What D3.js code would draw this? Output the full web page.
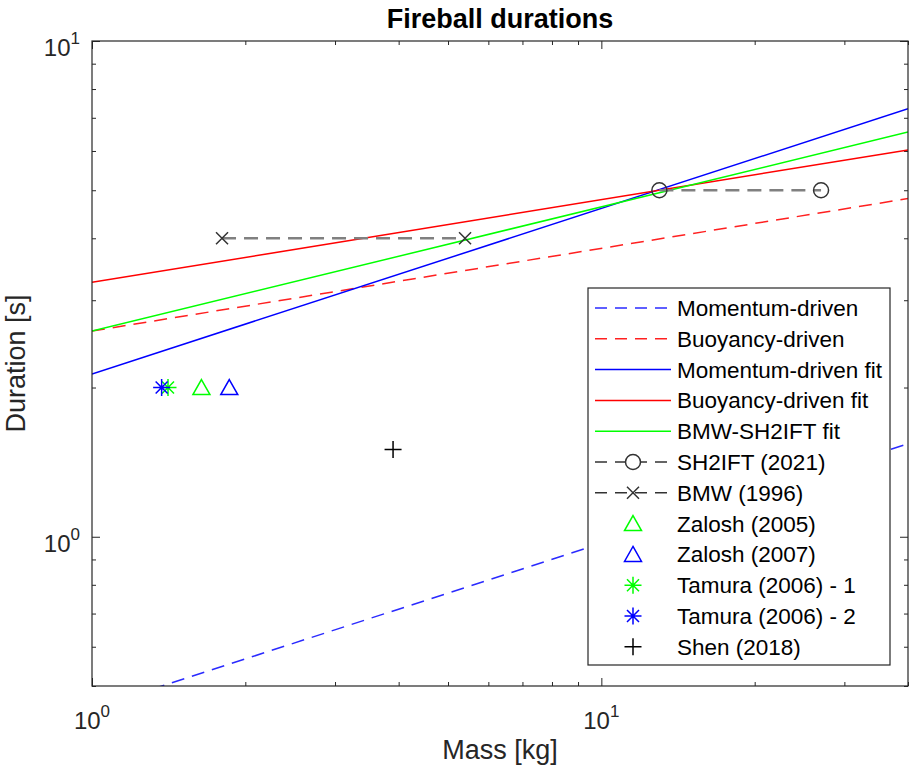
<!DOCTYPE html>
<html>
<head>
<meta charset="utf-8">
<script src="https://cdn.jsdelivr.net/npm/d3@7"></script>
<style>
  body { margin: 0; background: #fff; }
  text { font-family: "Liberation Sans", Arial, Helvetica, sans-serif; fill: #262626; }
  .axis path, .axis line { stroke: #262626; }
</style>
</head>
<body>
<div id="chart"></div>
<script>

// axis ranges
var massRange = [1, 40];
var durationRange = [0.5, 10];

// correlations: duration at both ends of the mass range (straight in log-log)
var lineMass = [1, 40];
var momentumDriven = [0.45, 1.54];
var buoyancyDriven = [2.6, 4.81];
var momentumFit = [2.13, 7.3];
var buoyancyFit = [3.26, 6.03];
var bmwSh2iftFit = [2.6, 6.55];

// experiments
var sh2iftMass = [13, 27], sh2iftDuration = [5, 5];
var bmwMass = [1.8, 5.4], bmwDuration = [4, 4];
var zalosh2005Mass = [1.64], zalosh2005Duration = [2];
var zalosh2007Mass = [1.86], zalosh2007Duration = [2];
var tamura1Mass = [1.41], tamura1Duration = [2];
var tamura2Mass = [1.37], tamura2Duration = [2];
var shenMass = [3.9], shenDuration = [1.5];

var labels = ["Momentum-driven", "Buoyancy-driven", "Momentum-driven fit", "Buoyancy-driven fit",
  "BMW-SH2IFT fit", "SH2IFT (2021)", "BMW (1996)", "Zalosh (2005)", "Zalosh (2007)",
  "Tamura (2006) - 1", "Tamura (2006) - 2", "Shen (2018)"];

// series table, in plotting / legend order
var series = [
  {mass: lineMass, dur: momentumDriven, color: "#2a2aff", dash: "13,8", marker: null},
  {mass: lineMass, dur: buoyancyDriven, color: "#ff2020", dash: "13,8", marker: null},
  {mass: lineMass, dur: momentumFit, color: "#0000ff", dash: null, marker: null},
  {mass: lineMass, dur: buoyancyFit, color: "#ff0000", dash: null, marker: null},
  {mass: lineMass, dur: bmwSh2iftFit, color: "#00ff00", dash: null, marker: null},
  {mass: sh2iftMass, dur: sh2iftDuration, color: "#808080", dash: "14,8", marker: "o", mcolor: "#333"},
  {mass: bmwMass, dur: bmwDuration, color: "#808080", dash: "14,8", marker: "x", mcolor: "#333"},
  {mass: zalosh2005Mass, dur: zalosh2005Duration, color: null, marker: "^", mcolor: "#00ff00"},
  {mass: zalosh2007Mass, dur: zalosh2007Duration, color: null, marker: "^", mcolor: "#0000ff"},
  {mass: tamura1Mass, dur: tamura1Duration, color: null, marker: "*", mcolor: "#00ff00"},
  {mass: tamura2Mass, dur: tamura2Duration, color: null, marker: "*", mcolor: "#0000ff"},
  {mass: shenMass, dur: shenDuration, color: null, marker: "+", mcolor: "#000"}
];
series.forEach(function(s, i) {
  s.label = labels[i];
  s.points = s.mass.map(function(m, j) { return [m, s.dur[j]]; });
});

var margin = {top: 41, right: 2, bottom: 85, left: 92},
    width = 910 - margin.left - margin.right,
    height = 771 - margin.top - margin.bottom;

var svg = d3.select("#chart")
  .append("svg")
    .attr("width", 910)
    .attr("height", 771);

var g = svg.append("g")
    .attr("transform", "translate(" + margin.left + "," + margin.top + ")");

var x = d3.scaleLog().domain(massRange).range([0, width]);
var y = d3.scaleLog().domain(durationRange).range([height, 0]);

svg.append("defs").append("clipPath")
    .attr("id", "plot-clip")
  .append("rect")
    .attr("width", width)
    .attr("height", height);

// marker shapes, centred on 0,0
function markerPath(type) {
  if (type === "o") return d3.symbol().type(d3.symbolCircle).size(Math.PI * 7.5 * 7.5)();
  if (type === "x") return "M-6,-6L6,6M-6,6L6,-6";
  if (type === "+") return "M-8.5,0L8.5,0M0,-8.5L0,8.5";
  if (type === "*") return "M-8.5,0L8.5,0M0,-8.5L0,8.5M-6,-6L6,6M-6,6L6,-6";
  if (type === "^") return "M0,-8L8.5,7L-8.5,7Z";
}

// ticks: major at decades, minor at the rest, all pointing inward
var xTicks = x.ticks(), yTicks = y.ticks();
function isMajor(v) { return Math.abs(Math.log10(v) - Math.round(Math.log10(v))) < 1e-9; }

function addTicks(axisFn, scale, ticks, size, transform) {
  g.append("g")
      .attr("class", "axis")
      .attr("transform", transform)
      .call(axisFn(scale).tickValues(ticks).tickSize(size).tickSizeOuter(0).tickFormat(""))
      .call(function(a) { a.select(".domain").remove(); });
}
var xMajor = xTicks.filter(isMajor), xMinor = xTicks.filter(function(v) { return !isMajor(v); });
var yMajor = yTicks.filter(isMajor), yMinor = yTicks.filter(function(v) { return !isMajor(v); });
addTicks(d3.axisBottom, x, xMajor, -8, "translate(0," + height + ")");
addTicks(d3.axisBottom, x, xMinor, -4, "translate(0," + height + ")");
addTicks(d3.axisTop, x, xMajor, -8, "translate(0,0)");
addTicks(d3.axisTop, x, xMinor, -4, "translate(0,0)");
addTicks(d3.axisLeft, y, yMajor, -8, "translate(0,0)");
addTicks(d3.axisLeft, y, yMinor, -4, "translate(0,0)");
addTicks(d3.axisRight, y, yMajor, -8, "translate(" + width + ",0)");
addTicks(d3.axisRight, y, yMinor, -4, "translate(" + width + ",0)");

// tick labels as 10^n
function powerLabel(sel, v) {
  sel.append("tspan").text("10");
  sel.append("tspan").attr("dy", -12).style("font-size", "17px").text(Math.round(Math.log10(v)));
}
xMajor.forEach(function(v) {
  g.append("text")
      .attr("x", x(v))
      .attr("y", height + 43)
      .attr("text-anchor", "middle")
      .style("font-size", "24px")
      .call(powerLabel, v);
});
yMajor.forEach(function(v) {
  g.append("text")
      .attr("x", -12)
      .attr("y", y(v) + 15)
      .attr("text-anchor", "end")
      .style("font-size", "24px")
      .call(powerLabel, v);
});

// plotted series
var plot = g.append("g").attr("clip-path", "url(#plot-clip)");
var line = d3.line()
    .x(function(d) { return x(d[0]); })
    .y(function(d) { return y(d[1]); });

series.forEach(function(s) {
  if (s.color) {
    plot.append("path")
        .datum(s.points)
        .attr("d", line)
        .attr("fill", "none")
        .attr("stroke", s.color)
        .attr("stroke-width", s.marker ? 2.5 : 1.5)
        .attr("stroke-dasharray", s.dash);
  }
  if (s.marker) {
    g.selectAll(null)
      .data(s.points)
      .enter()
      .append("path")
        .attr("transform", function(d) { return "translate(" + x(d[0]) + "," + y(d[1]) + ")"; })
        .attr("d", markerPath(s.marker))
        .attr("fill", "none")
        .attr("stroke", s.mcolor)
        .attr("stroke-width", 1.5);
  }
});

// axes box
g.append("rect")
    .attr("width", width)
    .attr("height", height)
    .attr("fill", "none")
    .attr("stroke", "#262626")
    .attr("stroke-width", 1.2);

// title and labels
svg.append("text")
    .attr("x", margin.left + width / 2)
    .attr("y", 28)
    .attr("text-anchor", "middle")
    .style("font-size", "27px")
    .style("font-weight", "bold")
    .style("fill", "#000")
    .text("Fireball durations");

svg.append("text")
    .attr("x", margin.left + width / 2)
    .attr("y", 759)
    .attr("text-anchor", "middle")
    .style("font-size", "27px")
    .text("Mass [kg]");

svg.append("text")
    .attr("transform", "translate(25," + (margin.top + height / 2) + ") rotate(-90)")
    .attr("text-anchor", "middle")
    .style("font-size", "27px")
    .text("Duration [s]");

// legend
var legend = svg.append("g").attr("transform", "translate(588,288)");
legend.append("rect")
    .attr("width", 302)
    .attr("height", 377)
    .attr("fill", "#fff")
    .attr("stroke", "#262626")
    .attr("stroke-width", 1.2);

series.forEach(function(s, i) {
  var row = legend.append("g").attr("transform", "translate(0," + (20 + i * 30.8) + ")");
  if (s.color) {
    row.append("line")
        .attr("x1", 7).attr("x2", 83)
        .attr("stroke", s.marker ? "#333" : s.color)
        .attr("stroke-width", 1.5)
        .attr("stroke-dasharray", s.dash ? "12,8" : null);
  }
  if (s.marker) {
    row.append("path")
        .attr("transform", "translate(45,0)")
        .attr("d", markerPath(s.marker))
        .attr("fill", s.marker === "o" ? "#fff" : "none")
        .attr("stroke", s.mcolor)
        .attr("stroke-width", 1.5);
  }
  row.append("text")
      .attr("x", 89)
      .attr("y", 8)
      .style("font-size", "22.5px")
      .style("fill", "#000")
      .text(s.label);
});

</script>
</body>
</html>
